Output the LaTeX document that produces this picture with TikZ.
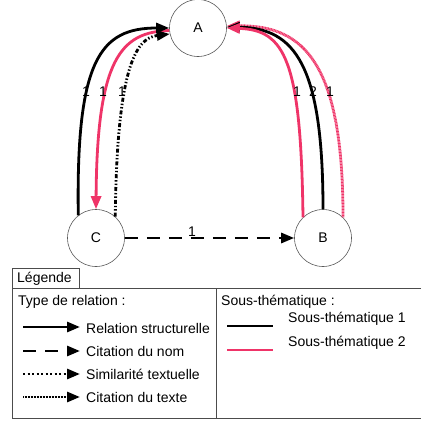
\documentclass[tikz,border=0pt]{standalone}
\usepackage{fontspec}
\setmainfont{Liberation Sans}
\usetikzlibrary{arrows.meta,positioning}
\definecolor{rose}{RGB}{239,52,104}

\begin{document}
\begin{tikzpicture}[x=1pt,y=-1pt,every node/.style={font=\fontsize{14}{16}\selectfont},
  sujet/.style={circle,draw=black!65,line width=.6pt,minimum size=57pt,inner sep=0pt},
  tip/.style={-{Triangle[length=13pt,width=10pt]}},
  structurel/.style={tip,line width=2.8pt},
  nom/.style={tip,line width=2.8pt,dash pattern=on 13pt off 9pt},
  similarite/.style={tip,line width=2.8pt,dash pattern=on 4pt off 2pt on 1.4pt off 2pt on 1.4pt off 2pt},
  texte/.style={tip,line width=2.8pt,dash pattern=on 1pt off .5pt},
  cadre/.style={draw=black!70,line width=.7pt},
  lbl/.style={inner sep=0pt}]
\useasboundingbox (0,0) rectangle (421,423);
% sujets
\node[sujet] (A) at (198,28) {A};
\node[sujet] (C) at (96,238) {C};
\node[sujet] (B) at (323,238) {B};
% C -> A
\draw[structurel,rose] (A.185) .. controls (120,32) and (97,60) .. (C.90);
\draw[similarite] (C.48) .. controls (117,70) and (135,38) .. (A.192);
\draw[structurel] (C.128) .. controls (76,60) and (100,28) .. (A.180);
% B -> A
\draw[texte,rose] (B.46) .. controls (343,65) and (305,25) .. (A.4);
\draw[structurel] (B.90) .. controls (323,65) and (295,28) .. (A.2);
\draw[structurel,rose] (B.134) .. controls (301,60) and (285,30) .. (A.0);
% C -> B
\draw[nom] (C.east) -- (B.west);
\node[lbl] (n1) at (192,232) {1};
% poids des relations
\node[lbl] (l1) at (86,92) {1};
\node[lbl] (l2) at (103,92) {1};
\node[lbl] (l3) at (122,92) {1};
\node[lbl] (r1) at (297,92) {1};
\node[lbl] (r2) at (313,92) {2};
\node[lbl] (r3) at (330,92) {1};
% legende
\draw[cadre] (12,288) rectangle (79,268);
\node[lbl,anchor=west] (leg) at (17,279) {Légende};
\draw[cadre] (421,288) -- (12,288) -- (12,418) -- (421,418);
\draw[cadre] (216,288) -- (216,418);
\node[lbl,anchor=west] (typ) at (18,302) {Type de relation :};
\node[lbl,anchor=west] (sth) at (221,302) {Sous-thématique :};
\coordinate (s1a) at (23,327); \coordinate (s1b) at (80,327);
\coordinate (s2a) at (23,351); \coordinate (s2b) at (80,351);
\coordinate (s3a) at (23,374); \coordinate (s3b) at (80,374);
\coordinate (s4a) at (23,397); \coordinate (s4b) at (80,397);
\draw[structurel] (s1a) -- (s1b);
\draw[nom] (s2a) -- (s2b);
\draw[similarite,dash pattern=on 2pt off 2.5pt] (s3a) -- (s3b);
\draw[texte] (s4a) -- (s4b);
\node[lbl,anchor=west] (t1) at (86,328) {Relation structurelle};
\node[lbl,anchor=west] (t2) at (86,351) {Citation du nom};
\node[lbl,anchor=west] (t3) at (86,374) {Similarité textuelle};
\node[lbl,anchor=west] (t4) at (86,397) {Citation du texte};
\coordinate (u1a) at (227,326); \coordinate (u1b) at (273,326);
\coordinate (u2a) at (227,350); \coordinate (u2b) at (273,350);
\draw[line width=2.8pt] (u1a) -- (u1b);
\draw[line width=2.8pt,rose] (u2a) -- (u2b);
\node[lbl,anchor=west] (v1) at (288,319) {Sous-thématique 1};
\node[lbl,anchor=west] (v2) at (288,343) {Sous-thématique 2};
\end{tikzpicture}
\end{document}
